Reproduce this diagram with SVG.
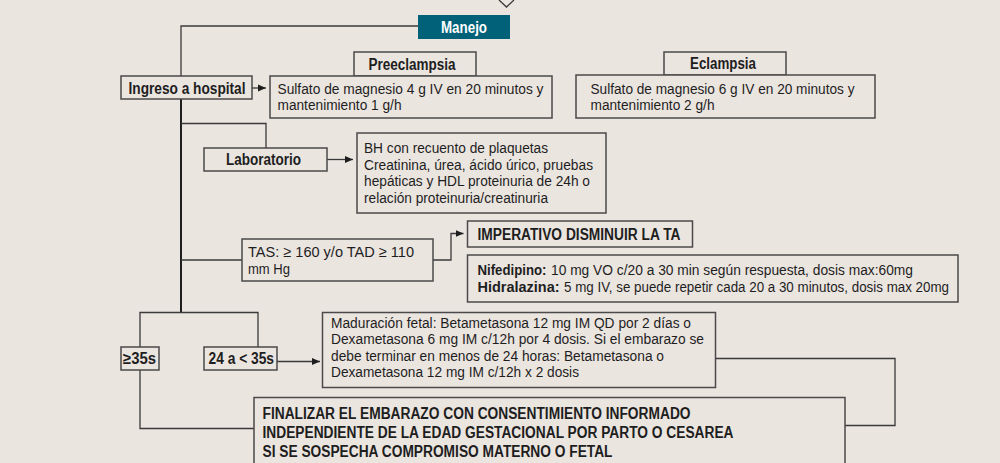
<svg xmlns="http://www.w3.org/2000/svg" width="1000" height="463" viewBox="0 0 1000 463">
<defs>
<style>
.box{fill:#ebe5e0;stroke:#4a4a4a;stroke-width:1.5}
.hd{fill:#006179;stroke:none}
.t{font-family:"Liberation Sans",Arial,sans-serif;font-size:15.5px;fill:#1e1e1e}
.b{font-family:"Liberation Sans",Arial,sans-serif;font-size:16px;font-weight:bold;fill:#1e1e1e}
.bs{font-family:"Liberation Sans",Arial,sans-serif;font-size:15.5px;font-weight:bold;fill:#1e1e1e}
.w{font-family:"Liberation Sans",Arial,sans-serif;font-size:16px;font-weight:bold;fill:#ffffff}
.ln{fill:none;stroke:#3a3a3a;stroke-width:1.3}
.lnk{fill:none;stroke:#1e1e1e;stroke-width:2}
</style>
<marker id="ah" viewBox="0 0 8 8" refX="8" refY="4" markerWidth="8" markerHeight="8" markerUnits="userSpaceOnUse" orient="auto">
<path d="M0,0.5 L8,4 L0,7.5 Z" fill="#1e1e1e"/>
</marker>
</defs>
<rect x="0" y="0" width="1000" height="463" fill="#ebe5e0"/>

<g id="connectors">
<polyline class="ln" points="499,0 506.5,7 514,0"/>
<polyline class="ln" points="418,26 181,26 181,76"/>
<line class="lnk" x1="181" y1="99" x2="181" y2="313"/>
<line class="ln" x1="252" y1="88" x2="266" y2="88" marker-end="url(#ah)"/>
<polyline class="ln" points="181,123.5 266,123.5 266,148"/>
<line class="ln" x1="327" y1="159.5" x2="353" y2="159.5" marker-end="url(#ah)"/>
<line class="ln" x1="181" y1="260" x2="242" y2="260"/>
<polyline class="ln" points="433,260 451,260 451,233.5 463.5,233.5" marker-end="url(#ah)"/>
<polyline class="ln" points="140,347 140,312.5 258,312.5 258,347"/>
<line class="ln" x1="277" y1="361.5" x2="320" y2="361.5" marker-end="url(#ah)"/>
<polyline class="ln" points="140,370 140,428.5 254,428.5"/>
<polyline class="ln" points="716,358.5 895,358.5 895,425.5 845,425.5"/>
</g>

<g id="manejo">
<rect class="hd" x="418" y="15" width="92" height="24"/>
<text class="w" x="464" y="32.5" text-anchor="middle" textLength="46" lengthAdjust="spacingAndGlyphs">Manejo</text>
</g>

<g id="ingreso">
<rect class="box" x="121" y="76" width="131" height="23"/>
<text class="b" x="128.5" y="93.5" textLength="117" lengthAdjust="spacingAndGlyphs">Ingreso a hospital</text>
</g>

<g id="preeclampsia">
<rect class="box" x="354" y="52" width="122" height="24"/>
<text class="b" x="368.5" y="69.5" textLength="87" lengthAdjust="spacingAndGlyphs">Preeclampsia</text>
</g>

<g id="sulfato-preeclampsia">
<rect class="box" x="270" y="76" width="282" height="42"/>
<text class="t" x="277.5" y="93.5" textLength="266" lengthAdjust="spacingAndGlyphs">Sulfato de magnesio 4 g IV en 20 minutos y</text>
<text class="t" x="277.5" y="110" textLength="124" lengthAdjust="spacingAndGlyphs">mantenimiento 1 g/h</text>
</g>

<g id="eclampsia">
<rect class="box" x="664" y="52" width="122" height="23"/>
<text class="b" x="690" y="69" textLength="66" lengthAdjust="spacingAndGlyphs">Eclampsia</text>
</g>

<g id="sulfato-eclampsia">
<rect class="box" x="576" y="75" width="299" height="43"/>
<text class="t" x="590.5" y="93.5" textLength="264" lengthAdjust="spacingAndGlyphs">Sulfato de magnesio 6 g IV en 20 minutos y</text>
<text class="t" x="590.5" y="110" textLength="124" lengthAdjust="spacingAndGlyphs">mantenimiento 2 g/h</text>
</g>

<g id="laboratorio">
<rect class="box" x="204" y="148" width="123" height="23"/>
<text class="b" x="226" y="165" textLength="75" lengthAdjust="spacingAndGlyphs">Laboratorio</text>
</g>

<g id="estudios">
<rect class="box" x="357" y="133" width="249" height="80"/>
<text class="t" x="364" y="153" textLength="184" lengthAdjust="spacingAndGlyphs">BH con recuento de plaquetas</text>
<text class="t" x="364" y="169.5" textLength="229" lengthAdjust="spacingAndGlyphs">Creatinina, úrea, ácido úrico, pruebas</text>
<text class="t" x="364" y="186" textLength="226" lengthAdjust="spacingAndGlyphs">hepáticas y HDL proteinuria de 24h o</text>
<text class="t" x="364" y="202.5" textLength="184" lengthAdjust="spacingAndGlyphs">relación proteinuria/creatinuria</text>
</g>

<g id="tas">
<rect class="box" x="242" y="239" width="191" height="42"/>
<text class="t" x="248" y="257" textLength="166" lengthAdjust="spacingAndGlyphs">TAS: ≥ 160 y/o TAD ≥ 110</text>
<text class="t" x="248" y="273.5" textLength="42" lengthAdjust="spacingAndGlyphs">mm Hg</text>
</g>

<g id="imperativo">
<rect class="box" x="467.5" y="221" width="225" height="26"/>
<text class="b" x="477.5" y="239.5" textLength="203" lengthAdjust="spacingAndGlyphs">IMPERATIVO DISMINUIR LA TA</text>
</g>

<g id="farmacos">
<rect class="box" x="467.5" y="255" width="490.5" height="47"/>
<text class="bs" x="477.5" y="275" textLength="69" lengthAdjust="spacingAndGlyphs">Nifedipino:</text>
<text class="t" x="551" y="275" textLength="362" lengthAdjust="spacingAndGlyphs">10 mg VO c/20 a 30 min según respuesta, dosis max:60mg</text>
<text class="bs" x="477.5" y="292" textLength="82" lengthAdjust="spacingAndGlyphs">Hidralazina:</text>
<text class="t" transform="translate(564,292) scale(0.86,1)" x="0" y="0" textLength="447.7" lengthAdjust="spacingAndGlyphs">5 mg IV, se puede repetir cada 20 a 30 minutos, dosis max 20mg</text>
</g>

<g id="mayor35">
<rect class="box" x="121" y="347" width="38" height="23"/>
<text class="b" x="123" y="364" textLength="33" lengthAdjust="spacingAndGlyphs">≥35s</text>
</g>

<g id="entre24y35">
<rect class="box" x="204" y="347" width="73" height="23"/>
<text class="b" x="208.5" y="364" textLength="65.5" lengthAdjust="spacingAndGlyphs">24 a &lt; 35s</text>
</g>

<g id="maduracion">
<rect class="box" x="322.5" y="312.5" width="393" height="75"/>
<text class="t" x="331" y="327.5" textLength="360" lengthAdjust="spacingAndGlyphs">Maduración fetal: Betametasona 12 mg IM QD por 2 días o</text>
<text class="t" x="331" y="344" textLength="373" lengthAdjust="spacingAndGlyphs">Dexametasona 6 mg IM c/12h por 4 dosis. Si el embarazo se</text>
<text class="t" x="331" y="360.5" textLength="333" lengthAdjust="spacingAndGlyphs">debe terminar en menos de 24 horas: Betametasona o</text>
<text class="t" x="331" y="377" textLength="248" lengthAdjust="spacingAndGlyphs">Dexametasona 12 mg IM c/12h x 2 dosis</text>
</g>

<g id="finalizar">
<rect class="box" x="254" y="397.5" width="591" height="75"/>
<text class="b" x="262.5" y="419" textLength="428" lengthAdjust="spacingAndGlyphs">FINALIZAR EL EMBARAZO CON CONSENTIMIENTO INFORMADO</text>
<text class="b" x="262.5" y="438" textLength="471" lengthAdjust="spacingAndGlyphs">INDEPENDIENTE DE LA EDAD GESTACIONAL POR PARTO O CESAREA</text>
<text class="b" x="262.5" y="456.5" textLength="350" lengthAdjust="spacingAndGlyphs">SI SE SOSPECHA COMPROMISO MATERNO O FETAL</text>
</g>
</svg>
